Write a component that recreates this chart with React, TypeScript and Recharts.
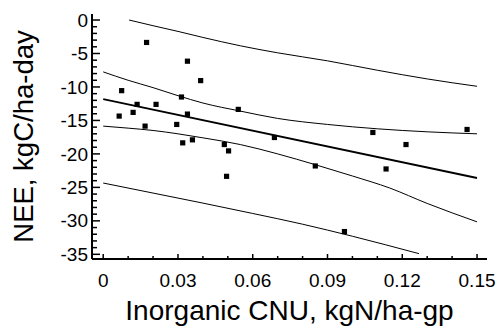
import React from 'react';
import { ComposedChart, XAxis, YAxis, Scatter, Line } from 'recharts';

const pointX = [0.0174, 0.0338, 0.0391, 0.0074, 0.0314, 0.0136, 0.0212, 0.0542, 0.012, 0.0338, 0.0064, 0.0295, 0.0168, 0.0358, 0.0319, 0.0486, 0.0503, 0.0495, 0.0687, 0.1082, 0.1215, 0.146, 0.1135, 0.0851, 0.0968];
const pointY = [-3.35, -6.15, -9.05, -10.55, -11.5, -12.6, -12.6, -13.35, -13.8, -14.05, -14.35, -15.6, -15.85, -17.9, -18.35, -18.6, -19.55, -23.35, -17.55, -16.8, -18.6, -16.35, -22.25, -21.8, -31.6];

const regX = [0, 0.15];
const regY = [-11.8, -23.6];

const upperConfX = [0, 0.01, 0.02, 0.03, 0.04, 0.055, 0.07, 0.09, 0.11, 0.13, 0.15];
const upperConfY = [-7.75, -9.0, -10.1, -11.3, -12.4, -13.6, -14.7, -15.6, -16.25, -16.7, -17.0];
const lowerConfX = [0, 0.01, 0.02, 0.03, 0.04, 0.055, 0.07, 0.085, 0.1, 0.115, 0.13, 0.15];
const lowerConfY = [-15.85, -16.15, -16.5, -17.0, -17.6, -18.6, -20.0, -21.6, -23.3, -25.1, -27.4, -30.15];

const upperPredX = [0.0104, 0.02, 0.03, 0.04, 0.055, 0.07, 0.09, 0.11, 0.13, 0.15];
const upperPredY = [0, -0.85, -1.7, -2.6, -3.85, -4.9, -6.1, -7.5, -8.8, -9.9];
const lowerPredX = [0, 0.02, 0.04, 0.06, 0.08, 0.1, 0.1267];
const lowerPredY = [-24.35, -25.85, -27.35, -28.9, -30.5, -32.3, -34.9];

const xTicks = [0, 0.01, 0.02, 0.03, 0.04, 0.05, 0.06, 0.07, 0.08, 0.09, 0.1, 0.11, 0.12, 0.13, 0.14, 0.15];
const xMajorLabels: Record<string, string> = { '0': '0', '0.03': '0.03', '0.06': '0.06', '0.09': '0.09', '0.12': '0.12', '0.15': '0.15' };
const yTicks = [-35, -34, -33, -32, -31, -30, -29, -28, -27, -26, -25, -24, -23, -22, -21, -20, -19, -18, -17, -16, -15, -14, -13, -12, -11, -10, -9, -8, -7, -6, -5, -4, -3, -2, -1, 0];
const yMajorLabels: Record<string, string> = { '0': '0', '-5': '-5', '-10': '-10', '-15': '-15', '-20': '-20', '-25': '-25', '-30': '-30', '-35': '-35' };

const xTitle = 'Inorganic CNU, kgN/ha-gp';
const yTitle = 'NEE, kgC/ha-day';

const zip = (xs: number[], ys: number[]) => xs.map((x, i) => ({ x, y: ys[i] }));

const points = zip(pointX, pointY);
const reg = zip(regX, regY);
const upperConf = zip(upperConfX, upperConfY);
const lowerConf = zip(lowerConfX, lowerConfY);
const upperPred = zip(upperPredX, upperPredY);
const lowerPred = zip(lowerPredX, lowerPredY);

const FONT = '"Liberation Sans", Arial, sans-serif';
const W = 497;
const H = 326;
const PLOT_TOP = 14;
const PLOT_LEFT = 92;
const PLOT_RIGHT = 487;
const PLOT_BOTTOM = 259;
const TICK_FONT = 19;

const keyOf = (v: number) => String(Math.round(v * 1000) / 1000);

const BottomTick = (props: any) => {
  const { payload } = props;
  const cx = payload.coordinate;
  const label = xMajorLabels[keyOf(payload.value)];
  const len = label !== undefined ? 5 : 3;
  return (
    <g>
      <line x1={cx} x2={cx} y1={PLOT_BOTTOM} y2={PLOT_BOTTOM - len} stroke="#000" strokeWidth={1.5} />
      {label !== undefined && (
        <text x={cx} y={PLOT_BOTTOM + 27.5} textAnchor="middle" fontSize={TICK_FONT} fontFamily={FONT} fill="#000">
          {label}
        </text>
      )}
    </g>
  );
};

const TopTick = (props: any) => {
  const { payload } = props;
  const cx = payload.coordinate;
  const major = xMajorLabels[keyOf(payload.value)] !== undefined;
  const len = major ? 5 : 3;
  return <line x1={cx} x2={cx} y1={PLOT_TOP} y2={PLOT_TOP + len} stroke="#000" strokeWidth={1.5} />;
};

const LeftTick = (props: any) => {
  const { payload } = props;
  const cy = payload.coordinate;
  const label = yMajorLabels[keyOf(payload.value)];
  const len = label !== undefined ? 8 : 5;
  return (
    <g>
      <line x1={PLOT_LEFT} x2={PLOT_LEFT + len} y1={cy} y2={cy} stroke="#000" strokeWidth={1.5} />
      {label !== undefined && (
        <text x={PLOT_LEFT - 4} y={cy + 6.6} textAnchor="end" fontSize={TICK_FONT} fontFamily={FONT} fill="#000">
          {label}
        </text>
      )}
    </g>
  );
};

const RightTick = (props: any) => {
  const { payload } = props;
  const cy = payload.coordinate;
  const major = yMajorLabels[keyOf(payload.value)] !== undefined;
  const len = major ? 8 : 5;
  return <line x1={PLOT_RIGHT} x2={PLOT_RIGHT - len} y1={cy} y2={cy} stroke="#000" strokeWidth={1.5} />;
};

const SquareDot = (props: any) => {
  const { cx, cy } = props;
  if (cx == null || cy == null) return null;
  return <rect x={cx - 2.6} y={cy - 2.6} width={5.2} height={5.2} fill="#000" />;
};

const XTitle = (props: any) => {
  const vb = props.viewBox;
  return (
    <text x={vb.x + vb.width / 2} y={320} textAnchor="middle" fontSize={28} fontFamily={FONT} fill="#000">
      {xTitle}
    </text>
  );
};

const YTitle = (props: any) => {
  const vb = props.viewBox;
  const cy = vb.y + vb.height / 2;
  return (
    <text x={33} y={cy} transform={`rotate(-90, 33, ${cy})`} textAnchor="middle" fontSize={27.5} fontFamily={FONT} fill="#000">
      {yTitle}
    </text>
  );
};

const xDomain: [number, number] = [-0.0045, 0.154];
const yDomain: [number, number] = [-35.7, 0.9];

export default function App() {
  return (
    <div style={{ position: 'absolute', left: 0, top: 0, width: W, height: H, background: '#fff' }}>
      <ComposedChart width={W} height={H} margin={{ top: PLOT_TOP, right: W - PLOT_RIGHT, bottom: 0, left: 0 }}>
        <XAxis
          xAxisId="main"
          type="number"
          dataKey="x"
          domain={xDomain}
          allowDataOverflow
          ticks={xTicks}
          interval={0}
          tickLine={false}
          tickSize={0}
          tickMargin={0}
          tick={<BottomTick />}
          axisLine={{ stroke: '#000', strokeWidth: 2 }}
          height={H - PLOT_BOTTOM}
          label={<XTitle />}
        />
        <XAxis
          xAxisId="top"
          orientation="top"
          type="number"
          dataKey="x"
          domain={xDomain}
          allowDataOverflow
          ticks={xTicks}
          interval={0}
          tickLine={false}
          tickSize={0}
          tickMargin={0}
          tick={<TopTick />}
          axisLine={{ stroke: '#000', strokeWidth: 2 }}
          height={0}
        />
        <YAxis
          yAxisId="main"
          type="number"
          domain={yDomain}
          allowDataOverflow
          ticks={yTicks}
          interval={0}
          tickLine={false}
          tickSize={0}
          tickMargin={0}
          tick={<LeftTick />}
          axisLine={{ stroke: '#000', strokeWidth: 2 }}
          width={PLOT_LEFT}
          label={<YTitle />}
        />
        <YAxis
          yAxisId="right"
          orientation="right"
          type="number"
          domain={yDomain}
          allowDataOverflow
          ticks={yTicks}
          interval={0}
          tickLine={false}
          tickSize={0}
          tickMargin={0}
          tick={<RightTick />}
          axisLine={{ stroke: '#000', strokeWidth: 2 }}
          width={0}
        />
        <Line xAxisId="main" yAxisId="main" data={upperPred} dataKey="y" type="monotone" dot={false} stroke="#000" strokeWidth={1} isAnimationActive={false} />
        <Line xAxisId="main" yAxisId="main" data={lowerPred} dataKey="y" type="monotone" dot={false} stroke="#000" strokeWidth={1} isAnimationActive={false} />
        <Line xAxisId="main" yAxisId="main" data={upperConf} dataKey="y" type="monotone" dot={false} stroke="#000" strokeWidth={1} isAnimationActive={false} />
        <Line xAxisId="main" yAxisId="main" data={lowerConf} dataKey="y" type="monotone" dot={false} stroke="#000" strokeWidth={1} isAnimationActive={false} />
        <Line xAxisId="main" yAxisId="main" data={reg} dataKey="y" type="linear" dot={false} stroke="#000" strokeWidth={1.8} isAnimationActive={false} />
        <Scatter xAxisId="main" yAxisId="main" data={points} dataKey="y" shape={<SquareDot />} isAnimationActive={false} />
        <Line xAxisId="top" yAxisId="right" data={reg} dataKey="y" stroke="none" dot={false} isAnimationActive={false} />
      </ComposedChart>
    </div>
  );
}
